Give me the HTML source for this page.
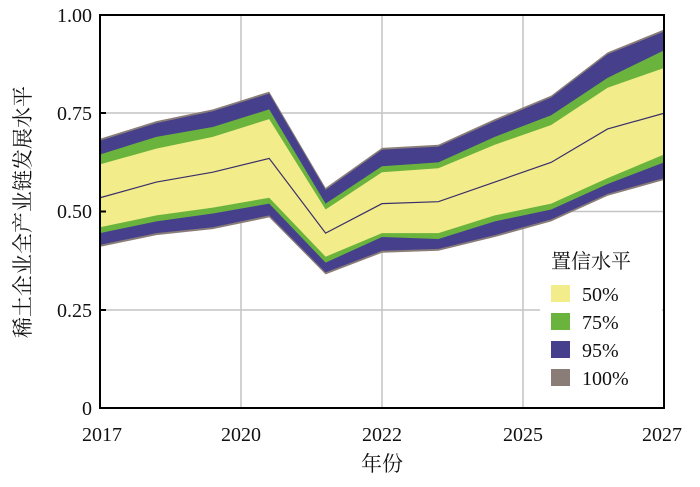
<!DOCTYPE html>
<html><head><meta charset="utf-8"><style>
body{margin:0;background:#fff;}
</style></head><body>
<svg width="700" height="482" viewBox="0 0 700 482" xmlns="http://www.w3.org/2000/svg" font-family="'Liberation Serif','Noto Serif CJK SC',serif">
<rect width="700" height="482" fill="#fff"/>
<g stroke="#c4c4c4" stroke-width="1.5">
<line x1="241" y1="15" x2="241" y2="408"/><line x1="382" y1="15" x2="382" y2="408"/><line x1="523" y1="15" x2="523" y2="408"/>
<line x1="100" y1="113" x2="664" y2="113"/><line x1="100" y1="211.5" x2="664" y2="211.5"/><line x1="100" y1="310" x2="664" y2="310"/>
</g>
<g id="bands"></g>
<polyline id="med" fill="none" stroke="#3a2f6a" stroke-width="1.2"/>
<rect x="100" y="15" width="564" height="393" fill="none" stroke="#000" stroke-width="2"/>
<g stroke="#000" stroke-width="2">
<line x1="100" y1="113" x2="106" y2="113"/><line x1="100" y1="211.5" x2="106" y2="211.5"/><line x1="100" y1="310" x2="106" y2="310"/>
</g>
<g font-size="20" text-anchor="end" fill="#111">
<text x="92" y="22">1.00</text><text x="92" y="120">0.75</text><text x="92" y="218">0.50</text><text x="92" y="317">0.25</text><text x="92" y="415">0</text>
</g>
<g font-size="20" text-anchor="middle" fill="#111">
<text x="102" y="441">2017</text><text x="241" y="441">2020</text><text x="382" y="441">2022</text><text x="523" y="441">2025</text><text x="662" y="441">2027</text>
<text x="382" y="471" font-size="21">年份</text>
</g>
<text transform="translate(30,212) rotate(-90)" font-size="21" text-anchor="middle" fill="#111">稀土企业全产业链发展水平</text>
<rect x="540" y="244" width="122" height="148" fill="#fff"/>
<g fill="#111" font-size="20">
<text x="551" y="268" font-size="20">置信水平</text>
<rect x="551" y="285" width="19" height="17" fill="#f3ec8a"/><text x="582" y="301">50%</text>
<rect x="551" y="313" width="19" height="17" fill="#6ab43e"/><text x="582" y="329">75%</text>
<rect x="551" y="341" width="19" height="17" fill="#46408c"/><text x="582" y="357">95%</text>
<rect x="551" y="369" width="19" height="17" fill="#8a7d78"/><text x="582" y="385">100%</text>
</g>
<script>
var xs=[],i;for(i=0;i<11;i++)xs.push(100+i*56.4);
function Y(v){return 408-v*393;}
var u95=[0.68,0.725,0.755,0.80,0.555,0.657,0.665,0.73,0.79,0.9,0.958],
u75=[0.645,0.69,0.715,0.76,0.52,0.615,0.625,0.69,0.745,0.84,0.91],
u50=[0.62,0.66,0.69,0.735,0.505,0.60,0.61,0.67,0.72,0.815,0.865],
l50=[0.46,0.49,0.51,0.535,0.385,0.445,0.445,0.49,0.52,0.585,0.645],
l75=[0.445,0.475,0.495,0.52,0.37,0.435,0.43,0.475,0.505,0.57,0.625],
l95=[0.415,0.445,0.46,0.49,0.345,0.40,0.405,0.44,0.48,0.545,0.585],
med=[0.535,0.575,0.60,0.635,0.445,0.52,0.525,0.575,0.625,0.71,0.75];
var u100=u95.map(function(v){return v+0.005}),l100=l95.map(function(v){return v-0.005});
function poly(a,b,c){var p=[];for(i=0;i<11;i++)p.push(xs[i]+','+Y(a[i]));for(i=10;i>=0;i--)p.push(xs[i]+','+Y(b[i]));
var e=document.createElementNS('http://www.w3.org/2000/svg','polygon');e.setAttribute('points',p.join(' '));e.setAttribute('fill',c);document.getElementById('bands').appendChild(e);}
poly(u100,l100,'#8a7d78');poly(u95,l95,'#46408c');poly(u75,l75,'#6ab43e');poly(u50,l50,'#f3ec8a');
var m=[];for(i=0;i<11;i++)m.push(xs[i]+','+Y(med[i]));document.getElementById('med').setAttribute('points',m.join(' '));
</script>
</svg>
</body></html>
